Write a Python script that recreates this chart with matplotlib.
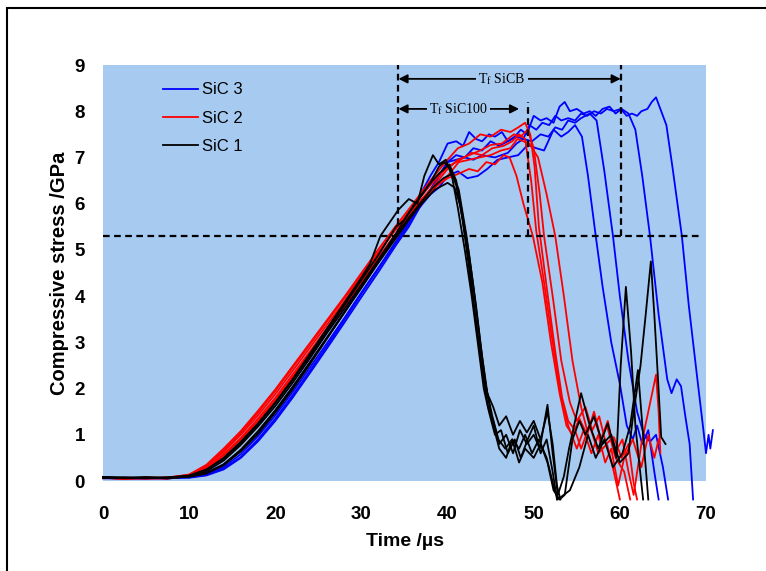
import matplotlib
matplotlib.use('Agg')
import matplotlib.pyplot as plt
from matplotlib.lines import Line2D
from matplotlib.patches import Rectangle

plt.rcParams['font.family'] = ['Liberation Sans', 'DejaVu Sans']
plt.rcParams['mathtext.fontset'] = 'stix'

# ---------------- data (time in µs, stress in GPa) ----------------
x_ticks = [0, 10, 20, 30, 40, 50, 60, 70]
y_ticks = [0, 1, 2, 3, 4, 5, 6, 7, 8, 9]
series_labels = ['SiC 3', 'SiC 2', 'SiC 1']

B1 = [(0,.07),(2.5,.05),(5,.06),(7.5,.07),(10,.09),(12,.15),(14,.3),(16,.58),(18,.97),(20,1.42),(22,1.92),(24,2.45),(26,2.98),(28,3.52),(30,4.08),(32,4.62),(34,5.18),(36,5.75),(38,6.2),(39,6.35),(40,6.6),(41.2,6.7),(42.3,6.55),(43.5,6.6),(44.6,6.75),(45.8,6.95),(47,7.0),(48.2,7.05),(49.3,7.27),(50.3,7.2),(51.2,7.15),(52.3,7.6),(53.2,7.45),(54,7.55),(54.8,7.7),(55.6,7.45),(56.3,6.6),(57.2,5.3),(58,4.2),(59,3.0),(60,2.1),(60.8,1.2),(61.5,0.9),(62,1.2),(62.6,0.8),(63.3,1.1),(64,0.2),(64.5,-0.4)]
B2 = [(0,.06),(2.5,.07),(5,.05),(7.5,.06),(10,.08),(12,.13),(14,.27),(16,.52),(18,.9),(20,1.35),(22,1.85),(24,2.38),(26,2.92),(28,3.48),(30,4.05),(32,4.6),(34,5.15),(35.5,5.55),(37,6.0),(38.5,6.45),(40,6.9),(41,6.95),(42,7.0),(43,6.95),(44,7.05),(45.5,7.0),(47,7.1),(48,7.3),(48.8,7.4),(49.8,7.35),(50.8,7.5),(51.7,7.45),(52.5,7.65),(53.3,7.6),(54,7.8),(54.8,7.75),(55.5,7.85),(56.5,7.95),(57.3,7.8),(58.2,6.7),(59.2,5.3),(60,4.0),(61,2.6),(62,1.5),(62.8,1.0),(63.5,0.85),(64.2,1.0),(65,0.3),(65.6,-0.4)]
B3 = [(0,.07),(2.5,.06),(5,.07),(7.5,.05),(10,.1),(12,.18),(14,.36),(16,.66),(18,1.06),(20,1.52),(22,2.03),(24,2.56),(26,3.1),(28,3.65),(30,4.2),(32,4.75),(34,5.3),(35.5,5.75),(37,6.25),(38,6.6),(39,6.9),(40,7.3),(41,7.35),(41.8,7.25),(42.5,7.55),(43.3,7.4),(44,7.35),(44.8,7.5),(45.5,7.45),(46.3,7.55),(47,7.35),(47.8,7.45),(48.5,7.6),(49.2,7.5),(50,7.9),(50.8,7.8),(51.5,7.85),(52.3,7.75),(53,8.1),(53.6,8.2),(54.2,8.0),(55,8.05),(55.8,7.95),(56.5,8.0),(57.2,7.9),(58,8.05),(58.8,8.1),(59.5,7.95),(60.2,8.05),(61,7.95),(61.8,7.6),(62.6,6.6),(63.5,5.3),(64.5,3.6),(65.5,2.2),(66,1.9),(66.6,2.2),(67.1,2.05),(67.6,1.4),(68.1,0.8),(68.5,-0.4)]
B4 = [(0,.06),(2.5,.05),(5,.06),(7.5,.07),(10,.07),(12,.12),(14,.25),(16,.5),(18,.86),(20,1.3),(22,1.8),(24,2.33),(26,2.87),(28,3.42),(30,3.98),(32,4.53),(34,5.1),(35.5,5.5),(37,6.0),(38,6.3),(39,6.6),(40,6.9),(41,7.05),(42,7.0),(43,7.2),(44,7.15),(45,7.35),(46,7.25),(47,7.35),(48,7.45),(48.8,7.4),(49.5,7.7),(50.3,7.6),(51,7.75),(51.8,7.7),(52.5,7.9),(53.2,7.8),(54,7.85),(54.8,7.8),(55.5,7.95),(56.2,7.9),(57,8.0),(57.8,7.95),(58.5,8.05),(59.3,8.0),(60.1,8.05),(60.8,7.9),(61.4,7.95),(62,7.9),(62.5,8.0),(63.2,8.05),(63.7,8.2),(64.2,8.3),(64.8,8.0),(65.4,7.7),(66.1,6.8),(67.2,5.3),(68,3.8),(69,2.2),(69.7,1.1),(70,0.6),(70.3,1.0),(70.5,0.7),(70.8,1.1)]

R1 = [(0,.07),(2.5,.04),(5,.08),(7.5,.06),(10,.13),(12,.32),(14,.66),(16,1.04),(18,1.48),(20,1.95),(22,2.45),(24,2.95),(26,3.45),(28,3.95),(30,4.45),(32,4.95),(34,5.45),(36,5.9),(38,6.3),(40,6.55),(41.3,6.65),(42.5,6.75),(43.5,6.7),(44.5,6.9),(45.5,6.85),(46.5,7.05),(47.2,7.0),(48,6.6),(48.8,6.0),(49.9,5.3),(51,4.3),(52,3.0),(53,1.9),(53.8,1.2),(54.5,1.0),(55.3,1.35),(56.2,1.0),(57,1.5),(57.8,0.9),(58.5,1.2),(59.5,0.5),(60.5,0.2),(61.2,-0.4)]
R2 = [(0,.08),(2.5,.06),(5,.05),(7.5,.07),(10,.14),(12,.35),(14,.7),(16,1.08),(18,1.52),(20,1.98),(22,2.48),(24,2.98),(26,3.48),(28,3.98),(30,4.5),(32,5.02),(34,5.52),(36,6.0),(38,6.5),(40,6.95),(41.2,7.2),(42.5,7.3),(43.8,7.5),(45,7.45),(46.2,7.6),(47.3,7.55),(48.2,7.65),(49,7.75),(49.6,7.5),(50.1,6.8),(50.6,5.5),(51.5,4.2),(52.5,2.8),(53.3,1.8),(54,1.3),(54.8,1.1),(55.5,0.7),(56.5,1.2),(57.5,0.6),(58.5,0.8),(59.3,0.2),(60,-0.4)]
R3 = [(0,.06),(2.5,.07),(5,.06),(7.5,.05),(10,.12),(12,.28),(14,.58),(16,.93),(18,1.35),(20,1.8),(22,2.3),(24,2.8),(26,3.3),(28,3.8),(30,4.35),(32,4.85),(34,5.35),(36,5.85),(38,6.3),(40,6.75),(41.2,6.95),(42.5,7.05),(43.8,7.15),(45,7.27),(46.3,7.3),(47.7,7.5),(48.5,7.45),(49.3,7.6),(50,7.2),(50.7,6.2),(51.2,5.3),(52.2,4.0),(53.2,2.6),(54.2,1.7),(55,1.3),(56,1.6),(56.8,1.1),(57.6,1.4),(58.4,0.8),(59.3,0.95),(60.2,0.5),(61,0.8),(61.6,-0.05),(62,-0.4)]
R4 = [(0,.07),(2.5,.05),(5,.07),(7.5,.06),(10,.11),(12,.26),(14,.55),(16,.9),(18,1.3),(20,1.75),(22,2.25),(24,2.75),(26,3.25),(28,3.75),(30,4.3),(32,4.8),(34,5.3),(36,5.8),(38,6.25),(40,6.6),(41.3,6.9),(42.5,6.95),(43.7,7.0),(45,7.05),(46.2,7.15),(47.3,7.2),(48.1,7.4),(48.8,7.35),(49.5,7.3),(50.5,7.0),(51.5,6.2),(52.5,5.3),(53.5,4.0),(54.5,2.6),(55.5,1.6),(56.2,1.1),(57,1.4),(57.8,0.9),(58.6,1.3),(59.4,0.6),(60.3,0.9),(61,0.2),(61.6,-0.3),(62.5,0.8),(63.3,1.5),(64.2,2.3),(64.5,1.5),(64.7,0.6)]
R5 = [(0,.08),(2.5,.06),(5,.06),(7.5,.08),(10,.13),(12,.32),(14,.63),(16,1.0),(18,1.42),(20,1.88),(22,2.38),(24,2.88),(26,3.38),(28,3.88),(30,4.42),(32,4.95),(34,5.45),(36,5.95),(38,6.4),(40,6.8),(41.5,6.95),(42.8,7.1),(44,7.05),(45.2,7.2),(46.5,7.25),(47.5,7.35),(48.3,7.5),(49,7.4),(49.7,6.5),(50.3,5.4),(51.2,4.3),(52.2,3.0),(53.2,1.8),(54,1.2),(55,0.7),(55.8,1.1),(56.7,0.6),(57.5,1.0),(58.3,0.4),(59,0.7),(59.8,-0.1),(60.5,0.5),(61.5,0.9),(62.5,0.3),(63.3,1.0),(64,0.5),(64.5,0.9)]

K1 = [(0,.08),(2.5,.07),(5,.06),(7.5,.08),(10,.11),(12,.24),(14,.5),(16,.85),(18,1.25),(20,1.7),(22,2.2),(24,2.75),(26,3.3),(28,3.85),(30,4.4),(31,4.7),(32.2,5.3),(33.3,5.6),(34.3,5.87),(35.5,6.1),(36.5,6.0),(37.3,6.6),(38.3,7.05),(39,6.85),(39.8,6.95),(40.5,6.6),(41.2,5.9),(42,5.0),(42.8,4.0),(43.5,3.0),(44.2,2.0),(44.8,1.5),(45.5,1.0),(46.2,1.1),(47,0.6),(47.8,0.9),(48.5,0.5),(49.3,0.9),(50,1.2),(50.8,0.6),(51.5,0.9),(52.2,0.2),(52.7,-0.4)]
K2 = [(0,.07),(2.5,.08),(5,.07),(7.5,.06),(10,.1),(12,.21),(14,.44),(16,.78),(18,1.18),(20,1.62),(22,2.12),(24,2.65),(26,3.2),(28,3.72),(30,4.25),(32,4.8),(34,5.35),(35.3,5.75),(36.5,6.05),(37.8,6.4),(39,6.65),(40.2,6.85),(41,6.5),(41.8,5.6),(42.5,4.6),(43.3,3.4),(44,2.4),(44.7,1.6),(45.3,1.3),(46,0.8),(46.8,1.0),(47.6,0.6),(48.4,1.1),(49.2,0.8),(50,1.0),(50.7,0.7),(51.6,1.65),(52.2,0.6),(52.8,-0.3),(53.5,0.1),(54.1,0.7),(55.5,1.9),(56.5,1.2),(57.5,0.7),(58.6,1.25),(59.6,0.5),(60.1,2.5),(60.7,4.2),(61.3,2.8),(61.8,1.2),(62.3,0.3),(62.7,-0.4)]
K3 = [(0,.09),(2.5,.06),(5,.07),(7.5,.07),(10,.09),(12,.16),(14,.34),(16,.64),(18,1.02),(20,1.48),(22,1.98),(24,2.52),(26,3.08),(28,3.64),(30,4.2),(32,4.76),(34,5.3),(35.5,5.7),(37,6.05),(38.3,6.35),(39.5,6.55),(40.6,6.65),(41.3,6.3),(42.2,5.3),(43,4.2),(43.8,3.0),(44.5,2.0),(45.2,1.4),(45.9,0.9),(46.7,0.7),(47.5,0.9),(48.3,0.4),(49,0.7),(50,0.5),(50.8,0.8),(51.6,0.4),(52.3,-0.2),(53,-0.4),(53.6,-0.3),(54.5,0.9),(55.3,1.3),(56,1.0),(57,1.4),(58,0.8),(59,1.0),(60,0.4),(61,0.6),(61.6,1.5),(62.4,2.5),(63,3.6),(63.6,4.75),(64,3.6),(64.4,2.3),(64.8,0.95),(65.3,0.8)]
K4 = [(0,.08),(2.5,.07),(5,.08),(7.5,.06),(10,.1),(12,.17),(14,.36),(16,.68),(18,1.08),(20,1.53),(22,2.03),(24,2.56),(26,3.1),(28,3.64),(30,4.18),(32,4.73),(34,5.25),(35.5,5.65),(37,6.0),(38.5,6.3),(40,6.45),(40.8,6.35),(41.6,5.9),(42.5,4.9),(43.3,3.8),(44,2.7),(44.7,1.8),(45.3,1.2),(46,0.7),(46.8,0.5),(47.5,0.9),(48.3,0.7),(49,1.0),(49.8,0.6),(50.6,0.9),(51.5,0.5),(52.3,-0.1),(52.8,-0.4),(54.2,-0.2),(55.3,0.3),(56.3,1.0),(57.2,0.5),(58.2,0.9),(59.2,0.3),(60.3,0.6),(61.2,1.2),(62.1,2.4),(62.7,1.0),(63.3,-0.4)]
K5 = [(0,.07),(2.5,.06),(5,.08),(7.5,.07),(10,.12),(12,.25),(14,.48),(16,.82),(18,1.22),(20,1.68),(22,2.18),(24,2.7),(26,3.25),(28,3.8),(30,4.35),(32,4.9),(33,5.2),(34,5.5),(35,5.65),(36,5.95),(37,6.2),(38,6.45),(39,6.8),(39.6,6.9),(40.3,6.75),(41,6.4),(41.7,5.7),(42.5,4.7),(43.2,3.6),(43.9,2.6),(44.6,1.9),(45.3,1.6),(46,1.2),(46.8,1.4),(47.6,1.0),(48.4,1.3),(49.2,1.05),(50,1.3),(50.8,0.9),(51.6,1.5),(52.2,0.8),(52.7,-0.1),(53.1,-0.4)]

sic3_curves = [B1, B2, B3, B4]
sic2_curves = [R1, R2, R3, R4, R5]
sic1_curves = [K1, K2, K3, K4, K5]

threshold_stress = 5.3
tf_start = 34.3
tf_sic100_end = 49.3
tf_sicb_end = 60.1

# ---------------- figure ----------------
BG = '#A6CAF0'
fig = plt.figure(figsize=(7.66, 5.71), dpi=100)
ax = fig.add_axes([103/766, 90/571, 603/766, 416/571])
ax.set_facecolor(BG)
for sp in ax.spines.values():
    sp.set_visible(False)
ax.set_xlim(0, 70)
ax.set_ylim(0, 9)
ax.set_xticks(x_ticks)
ax.set_yticks(y_ticks)
ax.tick_params(axis='x', length=0, labelsize=13.5, pad=18)
ax.tick_params(axis='y', length=0, labelsize=13.5, pad=13)
for lbl in ax.get_xticklabels() + ax.get_yticklabels():
    lbl.set_fontweight('bold')

for curves, col in [(sic3_curves, '#0000FF'), (sic2_curves, '#FF0000'), (sic1_curves, '#000000')]:
    for c in curves:
        t = [p[0] for p in c]
        s = [p[1] for p in c]
        ax.plot(t, s, color=col, lw=1.3, clip_on=False, solid_joinstyle='round')

# dashed guide lines
dash = dict(color='black', lw=1.6, linestyle=(0, (3, 2)), clip_on=False)
ax.plot([0, 69.6], [threshold_stress, threshold_stress], **dash)
ax.plot([tf_start, tf_start], [threshold_stress, 9], **dash)
ax.plot([tf_sic100_end, tf_sic100_end], [threshold_stress, 8.2], **dash)
ax.plot([tf_sicb_end, tf_sicb_end], [threshold_stress, 9], **dash)

# arrows
arr = dict(arrowstyle='<|-|>', color='black', lw=1.3, shrinkA=0, shrinkB=0, mutation_scale=13)
ax.annotate('', xy=(tf_start, 8.7), xytext=(tf_sicb_end, 8.7), arrowprops=arr)
ax.annotate('', xy=(tf_start, 8.05), xytext=(48.3, 8.05), arrowprops=arr)
tfont = dict(family=['Liberation Serif', 'DejaVu Serif'], fontsize=10, ha='center', va='center',
             bbox=dict(fc=BG, ec='none', pad=1.5))
ax.text(46.3, 8.7, r'T$_\mathregular{f}$ SiCB', **tfont)
ax.text(41.3, 8.05, r'T$_\mathregular{f}$ SiC100', **tfont)

# legend
handles = [Line2D([], [], color=c, lw=1.3, label=l)
           for c, l in zip(['#0000FF', '#FF0000', '#000000'], series_labels)]
ax.legend(handles=handles, loc='upper left', bbox_to_anchor=(0.0995, 0.958), frameon=False,
          fontsize=12, handlelength=2.1, handletextpad=0.25, labelspacing=0.8,
          borderpad=0, borderaxespad=0)

ax.set_xlabel('Time /µs', fontsize=14, fontweight='bold')
ax.xaxis.set_label_coords(0.5, -0.125)
ax.set_ylabel('Compressive stress /GPa', fontsize=14.5, fontweight='bold')
ax.yaxis.set_label_coords(-0.056, 0.5)

# outer frame
fig.add_artist(Rectangle((7/766, -0.1), 1.2, 1 - 8/571 + 0.1, transform=fig.transFigure,
                         fill=False, ec='black', lw=1.5))

fig.savefig('out.png', dpi=100)
